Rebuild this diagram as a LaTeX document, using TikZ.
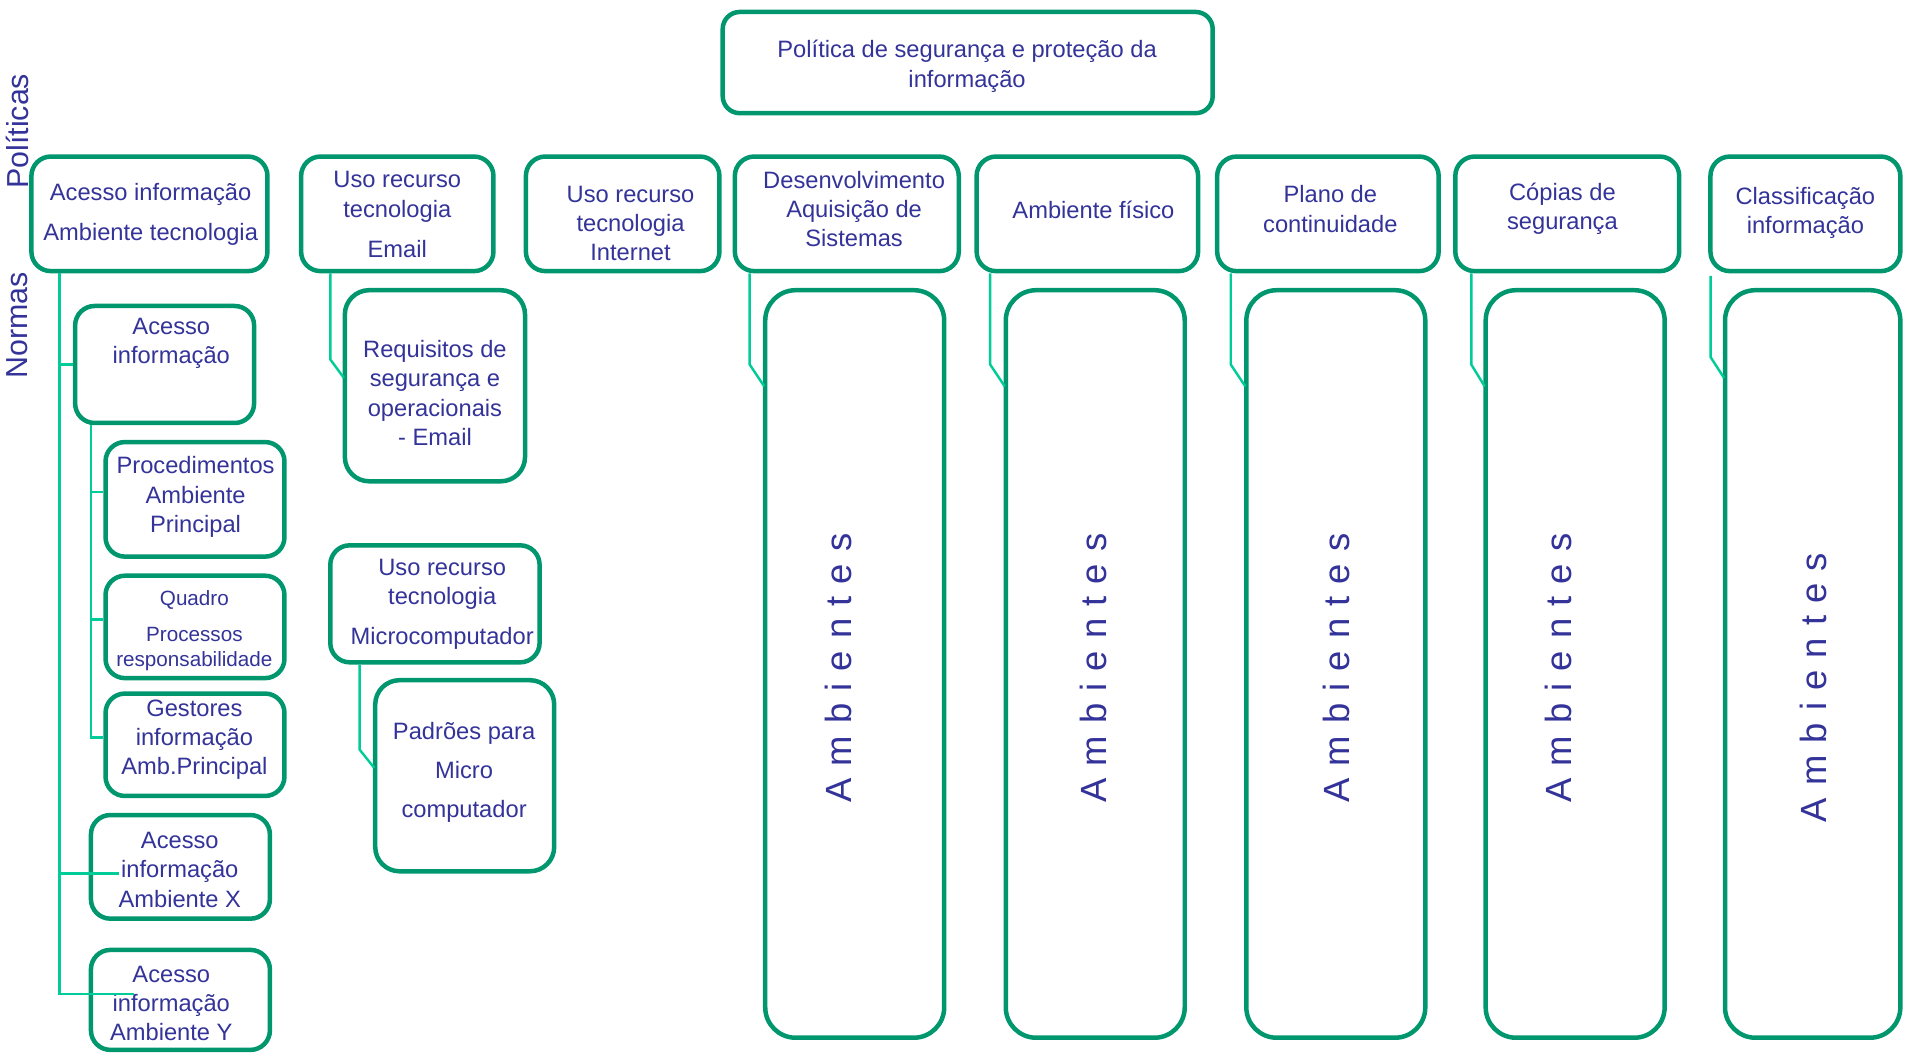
\documentclass[tikz,border=0pt]{standalone}
\usepackage{fontspec}
\setmainfont{Liberation Sans}
\definecolor{bgreen}{HTML}{00966E}
\definecolor{lgreen}{HTML}{00CC99}
\definecolor{tblue}{HTML}{333399}
\tikzset{
 boxst/.style={draw=bgreen, line width=3.7pt, fill=white, inner sep=0pt},
 conn/.style={draw=lgreen, line width=2pt},
 txt/.style={text=tblue, align=center, font=\fontsize{19.5}{24}\selectfont, inner sep=0pt},
 smalltxt/.style={text=tblue, align=center, font=\fontsize{17}{20.5}\selectfont, inner sep=0pt},
 amb/.style={text=tblue, rotate=90, font=\fontsize{30}{36}\selectfont, inner sep=0pt},
 vlab/.style={text=tblue, rotate=90, font=\fontsize{25}{30}\selectfont, inner sep=0pt},
}
\newcommand\mybox[6][16]{\node[boxst, rounded corners=#1pt, minimum width={(#5-#3-3.7)*1pt}, minimum height={(#6-#4-3.7)*1pt}] (#2) at ({(#3+#5)/2},{(#4+#6)/2}) {};}
\begin{document}
\begin{tikzpicture}[x=1pt,y=-1pt]
\useasboundingbox (0,0) rectangle (1568,867.5);
% top
\mybox[14]{pol}{593}{8}{1000}{95}
\node[txt] (polt) at (796,54.5) {Política de segurança e proteção da\\informação};
\node[vlab] (polit) at (14,108) {Políticas};
\node[vlab] (norm) at (14,268) {Normas};
% row 1
\mybox{b1}{24}{127}{222}{225}
\node[txt] (b1t) at (124,176.5) {Acesso informação\\[9pt]Ambiente tecnologia};
\mybox{b2}{246}{127}{408}{225}
\node[txt] (b2t) at (327,176.5) {Uso recurso\\tecnologia\\[9pt]Email};
\mybox{b3}{431}{127}{594}{225}
\node[txt] (b3t) at (519,184) {Uso recurso\\tecnologia\\Internet};
\mybox{b4}{603}{127}{791}{225}
\node[txt] (b4t) at (703,172) {Desenvolvimento\\Aquisição de\\Sistemas};
\mybox{b5}{802}{127}{988}{225}
\node[txt] (b5t) at (900,173) {Ambiente físico};
\mybox{b6}{1000}{127}{1186}{225}
\node[txt] (b6t) at (1095,172) {Plano de\\continuidade};
\mybox{b7}{1196}{127}{1384}{225}
\node[txt] (b7t) at (1286,172) {Cópias de\\segurança};
\mybox{b8}{1406}{127}{1566}{225}
\node[txt] (b8t) at (1486,175) {Classificação\\informação};
% column 1
\mybox{c1}{60}{250}{211}{350}
\node[txt] (c1t) at (141,282.5) {Acesso\\informação};
\mybox{d1}{85}{362}{236}{460}
\node[txt] (d1t) at (161,409) {Procedimentos\\Ambiente\\Principal};
\mybox{d2}{85}{472}{236}{560}
\node[smalltxt] (d2t) at (160,519) {Quadro\\[9pt]Processos\\responsabilidade};
\mybox{d3}{85}{569}{236}{657}
\node[txt] (d3t) at (160,609) {Gestores\\informação\\Amb.Principal};
\mybox{e1}{73}{669}{224}{758}
\node[txt] (e1t) at (148,716) {Acesso\\informação\\Ambiente X};
\mybox{e2}{73}{780}{224}{866}
\node[txt] (e2t) at (141,826) {Acesso\\informação\\Ambiente Y};
% column 2
\mybox[20]{f1}{282}{237}{434}{398}
\node[txt] (f1t) at (358,323.5) {Requisitos de\\segurança e\\operacionais\\- Email};
\mybox{g1}{270}{447}{446}{547}
\node[txt] (g1t) at (364,497.5) {Uso recurso\\tecnologia\\[9pt]Microcomputador};
\mybox[20]{g2}{307}{558}{458}{719}
\node[txt] (g2t) at (382,636) {Padrões para\\[8pt]Micro\\[8pt]computador};
% ambientes
\mybox[25]{a4}{628}{237}{779}{856}
\mybox[25]{a5}{826}{237}{977}{856}
\mybox[25]{a6}{1024}{237}{1175}{856}
\mybox[25]{a7}{1221}{237}{1372}{856}
\mybox[25]{a8}{1418}{237}{1566}{856}
\node[amb] (a4t) at (690,550) {\spaceskip=10pt A m b i e n t e s};
\node[amb] (a5t) at (900,550) {\spaceskip=10pt A m b i e n t e s};
\node[amb] (a6t) at (1100,550) {\spaceskip=10pt A m b i e n t e s};
\node[amb] (a7t) at (1283,550) {\spaceskip=10pt A m b i e n t e s};
\node[amb] (a8t) at (1493,566) {\spaceskip=10pt A m b i e n t e s};
% connectors column 1
\coordinate (k1) at (49,818);
\coordinate (e2end) at (110,818);
\coordinate (e1end) at (98,719);
\draw[conn] (b1.south -| k1) -- (k1) -- (e2end);
\draw[conn] (k1 |- c1.west) -- (c1.west);
\draw[conn] (k1 |- e1end) -- (e1end);
\coordinate (k2) at (75,607);
\coordinate (d1b) at (75,405);
\coordinate (d2b) at (75,510);
\draw[conn] (c1.south -| k2) -- (k2) -- (k2 -| d3.west);
\draw[conn] (d1b) -- (d1b -| d1.west);
\draw[conn] (d2b) -- (d2b -| d2.west);
% connectors column 2
\coordinate (f1a) at (272,296);
\coordinate (f1b) at (283,311);
\draw[conn] (b2.south -| f1a) -- (f1a) -- (f1b);
\coordinate (g2a) at (296,617);
\coordinate (g2b) at (308,632);
\draw[conn] (g1.south -| g2a) -- (g2a) -- (g2b);
% connectors ambientes
\coordinate (a4a) at (617,300); \coordinate (a4b) at (629,318);
\draw[conn] (b4.south -| a4a) -- (a4a) -- (a4b);
\coordinate (a5a) at (815,300); \coordinate (a5b) at (827,318);
\draw[conn] (b5.south -| a5a) -- (a5a) -- (a5b);
\coordinate (a6a) at (1013,300); \coordinate (a6b) at (1025,318);
\draw[conn] (b6.south -| a6a) -- (a6a) -- (a6b);
\coordinate (a7a) at (1211,300); \coordinate (a7b) at (1222,318);
\draw[conn] (b7.south -| a7a) -- (a7a) -- (a7b);
\coordinate (a8s) at (1408,227);
\coordinate (a8a) at (1408,294); \coordinate (a8b) at (1419,311);
\draw[conn] (a8s) -- (a8a) -- (a8b);
\end{tikzpicture}
\end{document}
